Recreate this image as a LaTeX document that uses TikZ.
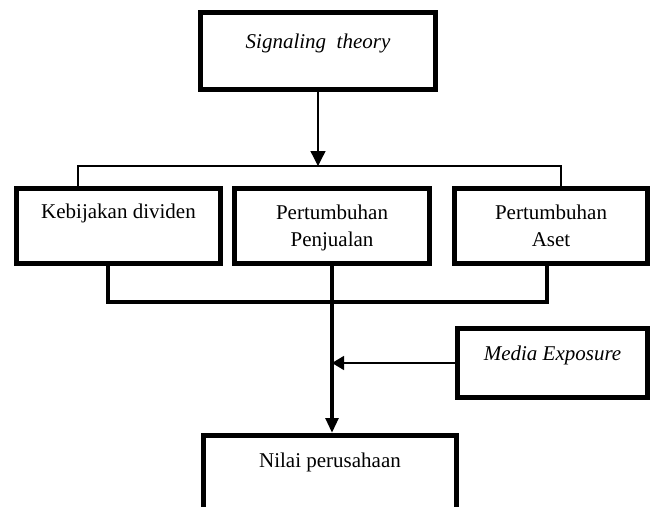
\documentclass[tikz,border=0pt]{standalone}
\usepackage{fontspec}
\setmainfont{Liberation Serif}
\usetikzlibrary{arrows.meta}

\begin{document}
\begin{tikzpicture}[x=0.6pt,y=-0.6pt,
    font=\fontsize{12.6}{16.2}\selectfont,
    box/.style={draw,line width=3pt,inner sep=0pt,align=center},
    thinline/.style={line width=0.8pt},
    thickline/.style={line width=2.4pt},
    arrowhead/.style={-{Triangle[width=9pt,length=9pt]}}]
      \useasboundingbox (0,0) rectangle (657,506);
      \clip (0,0) rectangle (657,506);
      % boxes
      \node[box,minimum width=141pt,minimum height=46.2pt,
        label={[yshift=4.8pt]center:\textit{Signaling\ \ theory}}] (sig) at (318,51) {};
      \node[box,minimum width=122.4pt,minimum height=45pt,
        label={[yshift=7.5pt]center:Kebijakan dividen}] (kd) at (118.5,226) {};
      \node[box,minimum width=117pt,minimum height=45pt,
        label={[align=center,yshift=-2.4pt]center:Pertumbuhan\\Penjualan\strut}] (pp) at (332,226) {};
      \node[box,minimum width=115.8pt,minimum height=45pt,
        label={[align=center,yshift=-2.4pt]center:Pertumbuhan\\Aset\strut}] (pa) at (551,226) {};
      \node[box,minimum width=114pt,minimum height=41.4pt,
        label={[yshift=4.8pt]center:\textit{Media Exposure}}] (me) at (552.5,363) {};
      \node[box,minimum width=151.8pt,minimum height=62.7pt,
        label={[yshift=15.45pt]center:Nilai perusahaan}] (np) at (330,487.75) {};
      % connectors
      \coordinate (tl) at (78,166);
      \coordinate (tr) at (561,166);
      \coordinate (bl) at (108,302);
      \coordinate (br) at (547,302);
      \draw[thinline,arrowhead] (sig) -- (sig |- tl);
      \draw[thinline] (kd.north -| tl) -- (tl) -- (tr) -- (pa.north -| tr);
      \draw[thickline] (kd.south -| bl) -- (bl) -- (br) -- (pa.south -| br);
      \draw[thickline,-{Triangle[width=7.5pt,length=9pt]}] (pp.south) -- (pp.south |- np.north);
      \draw[thinline,-{Triangle[width=8.4pt,length=7.2pt]}] (me.west) -- (me.west -| pp.south);
    \end{tikzpicture}
\end{document}
